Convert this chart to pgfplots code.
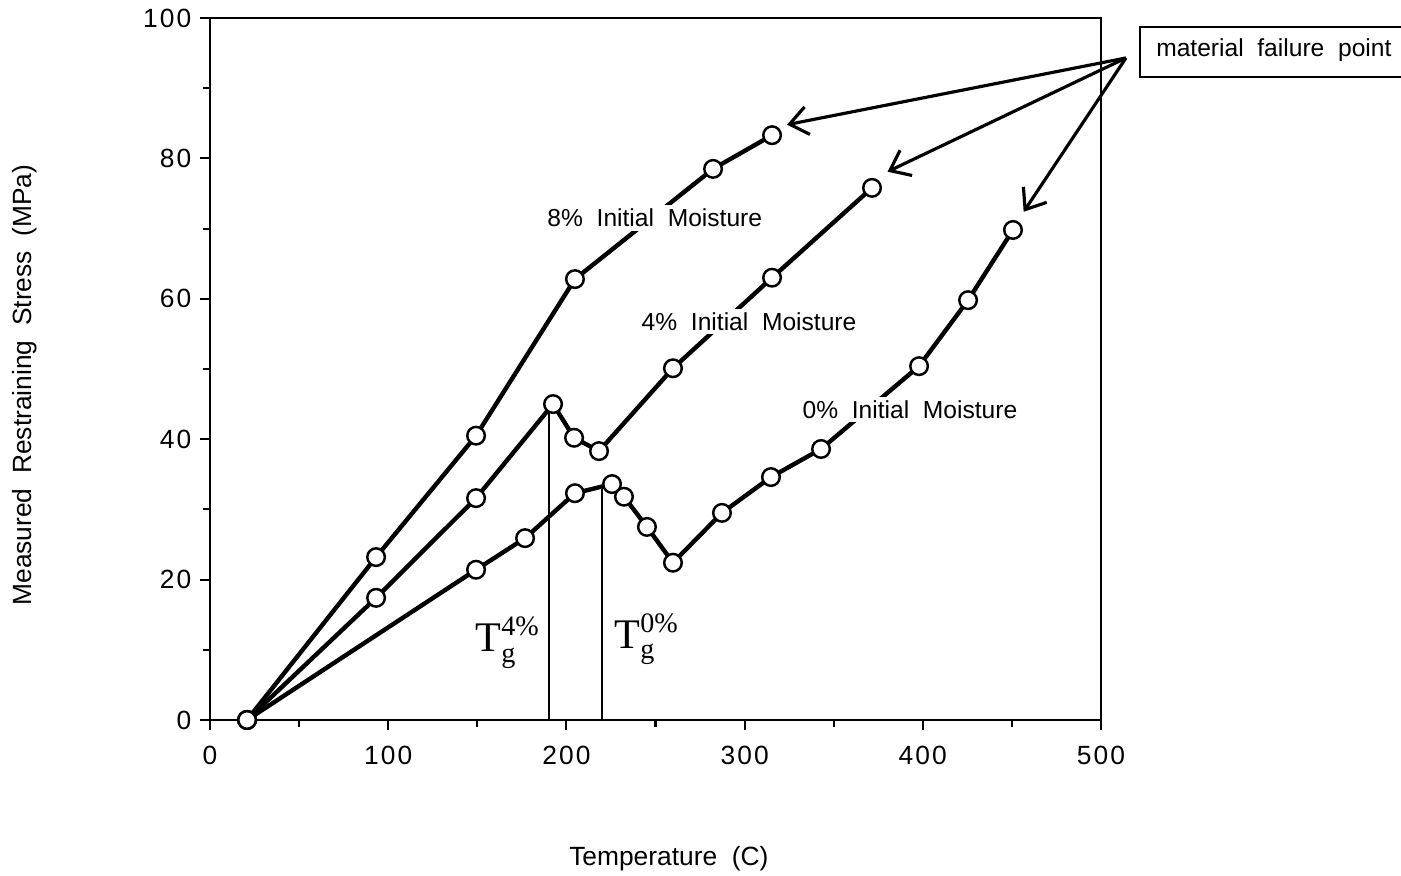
\documentclass[border=0pt]{standalone}
\usepackage{fontspec}
\setmainfont{Liberation Sans}
\newfontfamily\tnr{Liberation Serif}
\newfontfamily\tickfont[LetterSpace=8]{Liberation Sans}
\usepackage{pgfplots}
\pgfplotsset{compat=1.18}
\usetikzlibrary{arrows.meta}

\begin{document}
\begin{tikzpicture}
\begin{axis}[
  scale only axis, width=17.82cm, height=14.04cm,
  xmin=0, xmax=500, ymin=0, ymax=100,
  xtick={0,100,...,500}, ytick={0,20,...,100},
  minor xtick={50,150,...,450}, minor ytick={10,30,...,90},
  tick align=outside, xtick pos=bottom, ytick pos=left,
  major tick length=0.2cm, minor tick length=0.14cm,
  every tick/.style={black, line width=1.2pt},
  axis line style={line width=1.4pt},
  /pgf/number format/assume math mode=true,
  ticklabel style={font=\tickfont\fontsize{15}{17}\selectfont},
  xticklabel style={yshift=-0.2cm},
  yticklabel style={xshift=-0.05cm},
  xlabel={Temperature~~(C)},
  ylabel={Measured~~Restraining~~Stress~~(MPa)},
  label style={font=\fontsize{15}{18}\selectfont},
  xlabel style={at={(rel axis cs:0.515,-0.197)}, anchor=center},
  ylabel style={at={(rel axis cs:-0.2076,0.477)}, anchor=center, rotate=0},
  clip=false,
  series/.style={black, line width=2.5pt, mark=*, mark size=5pt,
    mark options={fill=white, draw=black, line width=1.4pt}},
]
% T_g vertical lines
\addplot[black, line width=1.1pt] coordinates {(190.2,0) (190.2,45.0)};
\addplot[black, line width=1.1pt] coordinates {(220.0,0) (220.0,33.5)};

% 8% initial moisture
\addplot[series] coordinates {
 (20.8,0) (93.2,23.2) (149.3,40.5) (204.8,62.8) (282.3,78.5) (315.4,83.3)};
% 4% initial moisture
\addplot[series] coordinates {
 (20.8,0) (93.2,17.4) (149.3,31.6) (192.5,45.0) (204.3,40.2) (218.3,38.3)
 (259.8,50.1) (315.4,63.0) (371.5,75.8)};
% 0% initial moisture
\addplot[series] coordinates {
 (20.8,0) (149.3,21.4) (176.8,25.9) (204.8,32.3) (225.6,33.6) (232.3,31.8)
 (245.2,27.5) (259.8,22.4) (287.3,29.5) (314.8,34.6) (342.9,38.6)
 (397.9,50.4) (425.4,59.8) (450.6,69.8)};

% series labels
\node[fill=white, inner sep=2pt, font=\fontsize{14}{16}\selectfont] at (axis cs:249.6,71.5) {8\%~~Initial~~Moisture};
\node[fill=white, inner sep=2pt, font=\fontsize{14}{16}\selectfont] at (axis cs:302.5,56.7) {4\%~~Initial~~Moisture};
\node[fill=white, inner sep=2pt, font=\fontsize{14}{16}\selectfont] at (axis cs:392.8,44.2) {0\%~~Initial~~Moisture};

% T_g labels
\node[font=\tnr\fontsize{24}{26}\selectfont] at (axis cs:167,11.0) {T$_{\mbox{\tnr\fontsize{16}{18}\selectfont g}}^{\mbox{\tnr\fontsize{16}{18}\selectfont 4\%}}$};
\node[font=\tnr\fontsize{24}{26}\selectfont] at (axis cs:245,11.5) {T$_{\mbox{\tnr\fontsize{16}{18}\selectfont g}}^{\mbox{\tnr\fontsize{16}{18}\selectfont 0\%}}$};

% failure point box and arrows
\draw[line width=1.3pt] (rel axis cs:1.3468,0.9872) -- (rel axis cs:1.0438,0.9872) -- (rel axis cs:1.0438,0.9160) -- (rel axis cs:1.3468,0.9160);
\node[font=\fontsize{14}{16}\selectfont] at (rel axis cs:1.194,0.9544) {material~~failure~~point};
\draw[line width=1.8pt, -{Straight Barb[length=0.36cm, width=0.56cm, line width=1.8pt]}] (axis cs:514,94.3) -- (axis cs:323.8,84.8);
\draw[line width=1.8pt, -{Straight Barb[length=0.36cm, width=0.56cm, line width=1.8pt]}] (axis cs:514,94.3) -- (axis cs:380.2,78.1);
\draw[line width=1.8pt, -{Straight Barb[length=0.36cm, width=0.56cm, line width=1.8pt]}] (axis cs:514,94.3) -- (axis cs:456.6,72.4);

\coordinate (bbsw) at (rel axis cs:-0.2357,-0.2222);
\coordinate (bbne) at (rel axis cs:1.3367,1.0256);
\end{axis}
\pgfresetboundingbox
\path[use as bounding box] (bbsw) rectangle (bbne);
\end{tikzpicture}
\end{document}
